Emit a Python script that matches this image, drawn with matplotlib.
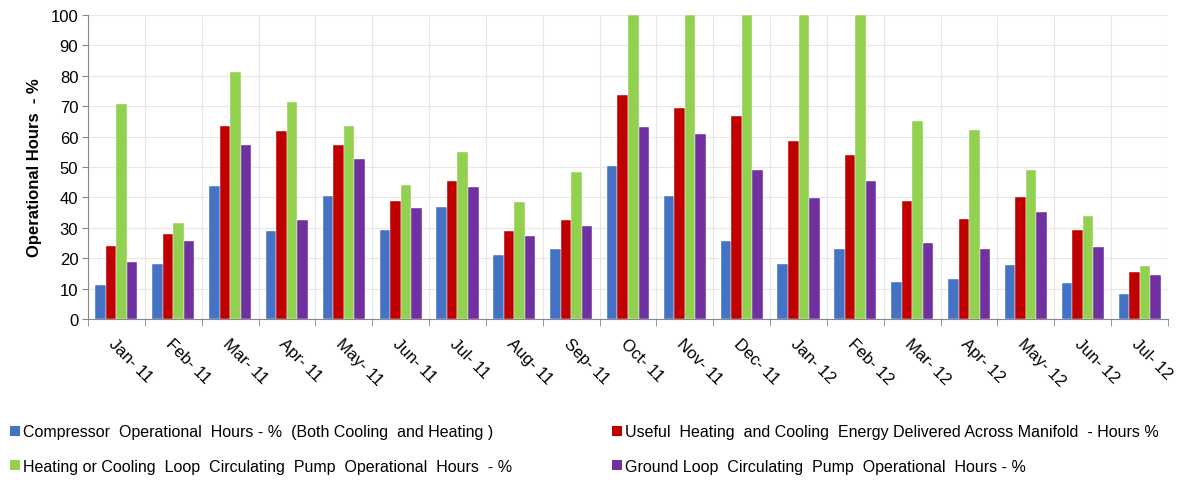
import matplotlib
matplotlib.use("Agg")
import matplotlib.pyplot as plt
import numpy as np
from matplotlib.patches import Patch

months = ["Jan- 11", "Feb- 11", "Mar- 11", "Apr- 11", "May- 11", "Jun- 11", "Jul- 11",
          "Aug- 11", "Sep- 11", "Oct- 11", "Nov- 11", "Dec- 11", "Jan- 12", "Feb- 12",
          "Mar- 12", "Apr- 12", "May- 12", "Jun- 12", "Jul- 12"]
compressor = [11.1, 18.2, 43.7, 28.9, 40.5, 29.4, 37.0, 20.9, 23.1, 50.4, 40.5, 25.7,
              18.1, 23.0, 12.2, 13.0, 17.7, 11.7, 8.2]
useful = [24.0, 28.1, 63.4, 61.7, 57.2, 38.9, 45.5, 28.9, 32.6, 73.8, 69.3, 66.7,
          58.6, 54.1, 38.8, 32.9, 40.1, 29.4, 15.4]
loop_pump = [70.6, 31.7, 81.3, 71.5, 63.4, 44.1, 54.9, 38.4, 48.3, 100, 100, 100,
             100, 100, 65.2, 62.1, 49.0, 33.8, 17.5]
ground_pump = [18.7, 25.8, 57.2, 32.6, 52.6, 36.6, 43.3, 27.2, 30.7, 63.0, 60.7, 49.0,
               39.7, 45.5, 24.9, 23.0, 35.2, 23.6, 14.5]

series_names = [
    "Compressor  Operational  Hours - %  (Both Cooling  and Heating )",
    "Useful  Heating  and Cooling  Energy Delivered Across Manifold  - Hours %",
    "Heating or Cooling  Loop  Circulating  Pump  Operational  Hours  - %",
    "Ground Loop  Circulating  Pump  Operational  Hours - %",
]
colors = ["#4472C4", "#C00000", "#92D050", "#7030A0"]
data = [compressor, useful, loop_pump, ground_pump]

plt.rcParams['font.family'] = ['Liberation Sans', 'DejaVu Sans']

fig = plt.figure(figsize=(11.94, 4.81), dpi=100)
ax = fig.add_axes([88/1194, 1-320/481, (1168-88)/1194, (320-16)/481])

x = np.arange(len(months))
w = 0.185
for i, (vals, c) in enumerate(zip(data, colors)):
    ax.bar(x + (i - 1.5) * w, vals, width=w, color=c, edgecolor='white', linewidth=0.3, zorder=3)

ax.set_xlim(-0.5, len(months) - 0.5)
ax.set_ylim(0, 100)
ax.set_yticks(np.arange(0, 101, 10))
ax.tick_params(axis='y', labelsize=12, length=4, color='#888888', pad=3)

ax.set_xticks(x)
ax.set_xticklabels(months, rotation=-45, ha='left', va='top', rotation_mode='anchor', fontsize=12)
ax.tick_params(axis='x', which='major', length=0, pad=12)
ax.set_xticks(np.arange(-0.5, len(months), 1), minor=True)
ax.tick_params(axis='x', which='minor', length=5, color='#888888')

ax.grid(True, axis='y', which='major', color='#E6E6E6', linewidth=0.8, zorder=0)
ax.grid(True, axis='x', which='minor', color='#E6E6E6', linewidth=0.8, zorder=0)
ax.grid(False, axis='x', which='major')

for s in ['top', 'right']:
    ax.spines[s].set_visible(False)
ax.spines['left'].set_color('#888888')
ax.spines['bottom'].set_color('#888888')

ax.set_ylabel("Operational Hours  - %", fontsize=12, fontweight='bold', labelpad=6)

handles = [Patch(facecolor=c, edgecolor='none') for c in colors]
leg_kw = dict(frameon=False, fontsize=11.5, handlelength=0.6, handleheight=0.6,
              handletextpad=0.2, labelspacing=1.2, borderaxespad=0, borderpad=0)
leg1 = fig.legend([handles[0], handles[2]], [series_names[0], series_names[2]],
                  loc='center left', bbox_to_anchor=(10/1194, 1-450/481), **leg_kw)
leg2 = fig.legend([handles[1], handles[3]], [series_names[1], series_names[3]],
                  loc='center left', bbox_to_anchor=(612/1194, 1-450/481), **leg_kw)

fig.savefig("out.png", dpi=100)
